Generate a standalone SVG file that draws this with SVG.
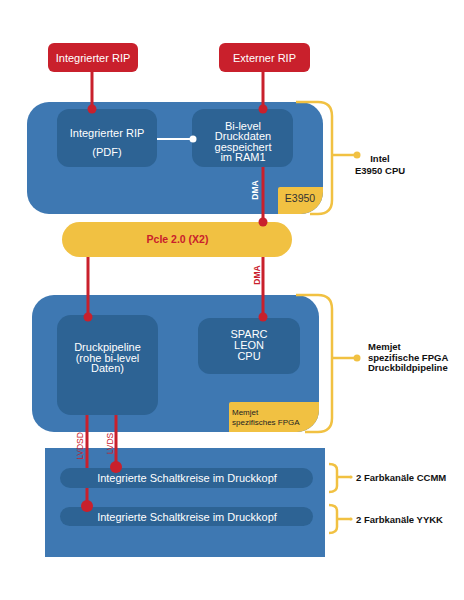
<svg xmlns="http://www.w3.org/2000/svg" width="464" height="600" viewBox="0 0 464 600">
<style>
text{font-family:"Liberation Sans",Arial,sans-serif}
.red{fill:#c9202c}
.blue{fill:#3e78b2}
.dark{fill:#2d6394}
.yel{fill:#f1c142}
.w{fill:#fff;font-size:11px;text-anchor:middle}
.lbl{fill:#111;font-size:9.5px;font-weight:bold}
.br{fill:none;stroke:#f1c142;stroke-width:2.5}
.ln{stroke:#c9202c;stroke-width:3;fill:none}
</style>
<defs>
<clipPath id="cpuClip"><rect x="27" y="102" width="296" height="112" rx="22"/></clipPath>
<clipPath id="fpgaClip"><rect x="32" y="295" width="287" height="137" rx="22"/></clipPath>
</defs>
<rect width="464" height="600" fill="#fff"/>

<g id="rip-int">
<rect class="red" x="48" y="43" width="90" height="29" rx="6"/>
<text class="w" x="93" y="61.5">Integrierter RIP</text>
</g>
<g id="rip-ext">
<rect class="red" x="219" y="43" width="91" height="29" rx="6"/>
<text class="w" x="264.5" y="61.5">Externer RIP</text>
</g>

<g id="cpu">
<rect class="blue" x="27" y="102" width="296" height="112" rx="22"/>
<rect class="yel" x="278" y="187" width="50" height="30" rx="2" clip-path="url(#cpuClip)"/>
<text x="300" y="202" font-size="10.5" fill="#333" text-anchor="middle">E3950</text>
<path class="br" d="M296,102 H318 Q332,102 332,116 V200 Q332,214 318,214 H310"/>
<path class="br" d="M332,155 H357"/>
<circle class="yel" cx="357" cy="155" r="3.5"/>
<text class="lbl" x="380" y="161.5" text-anchor="middle" font-size="10">Intel</text>
<text class="lbl" x="380" y="173.5" text-anchor="middle" font-size="10">E3950 CPU</text>
</g>

<g id="rip-pdf">
<rect class="dark" x="57" y="109" width="100" height="58" rx="12"/>
<text class="w" x="107" y="137">Integrierter RIP</text>
<text class="w" x="107" y="156">(PDF)</text>
</g>
<g id="ram1">
<rect class="dark" x="192" y="109" width="101" height="58" rx="12"/>
<text class="w" x="243" y="129.5" font-size="10.5">Bi-level</text>
<text class="w" x="243" y="140" font-size="10.5">Druckdaten</text>
<text class="w" x="243" y="150.5" font-size="10.5">gespeichert</text>
<text class="w" x="243" y="161" font-size="10.5">im RAM1</text>
</g>

<g id="pcie">
<rect class="yel" x="62" y="222" width="230" height="35" rx="17.5"/>
<text x="177.5" y="243" font-size="10.5" font-weight="bold" fill="#c9202c" text-anchor="middle">PcIe 2.0 (X2)</text>
</g>

<g id="fpga">
<rect class="blue" x="32" y="295" width="287" height="137" rx="22"/>
<rect class="yel" x="229" y="402" width="95" height="35" rx="2" clip-path="url(#fpgaClip)"/>
<text x="232" y="415" font-size="8" fill="#222">Memjet</text>
<text x="232" y="424.5" font-size="8" fill="#222">spezifisches FPGA</text>
<path class="br" d="M296,295 H318 Q332,295 332,309 V418 Q332,432 318,432 H305"/>
<path class="br" d="M332,358 H357"/>
<circle class="yel" cx="357" cy="358" r="3.5"/>
<text class="lbl" x="368" y="349.5">Memjet</text>
<text class="lbl" x="368" y="360.5">spezifische FPGA</text>
<text class="lbl" x="368" y="371">Druckbildpipeline</text>
</g>

<g id="druckpipeline">
<rect class="dark" x="57" y="315" width="101" height="100" rx="14"/>
<text class="w" x="107.5" y="351" font-size="11.5">Druckpipeline</text>
<text class="w" x="107.5" y="361.5" font-size="11.5">(rohe bi-level</text>
<text class="w" x="107.5" y="372" font-size="11.5">Daten)</text>
</g>
<g id="sparc">
<rect class="dark" x="198" y="318" width="102" height="56" rx="12"/>
<text class="w" x="249" y="337.5" font-size="9">SPARC</text>
<text class="w" x="249" y="349" font-size="9">LEON</text>
<text class="w" x="249" y="359.5" font-size="9">CPU</text>
</g>

<g id="druckkopf">
<rect class="blue" x="45" y="448" width="280" height="109"/>
<path class="br" d="M329,464 Q337,464 337,470 V486 Q337,492 329,492"/>
<path class="br" d="M337,477 H351" stroke-width="1.5"/>
<circle class="yel" cx="351" cy="477" r="1.6"/>
<text class="lbl" x="356" y="480.5">2 Farbkanäle CCMM</text>
<path class="br" d="M329,505 Q337,505 337,511 V527 Q337,533 329,533"/>
<path class="br" d="M337,519 H351" stroke-width="1.5"/>
<circle class="yel" cx="351" cy="519" r="1.6"/>
<text class="lbl" x="356" y="522.5">2 Farbkanäle YYKK</text>
</g>
<g id="ic-ccmm">
<rect class="dark" x="60" y="468" width="253" height="20" rx="10"/>
<text class="w" x="187" y="481.5" font-size="10">Integrierte Schaltkreise im Druckkopf</text>
</g>
<g id="ic-yykk">
<rect class="dark" x="60" y="507" width="253" height="19" rx="9.5"/>
<text class="w" x="187" y="520.5" font-size="10">Integrierte Schaltkreise im Druckkopf</text>
</g>

<g id="connectors">
<path class="ln" d="M92,72 V109"/>
<circle class="red" cx="92" cy="109" r="4.5"/>
<path class="ln" d="M263,72 V109"/>
<circle class="red" cx="263" cy="109" r="4.5"/>
<path d="M157,139 H193" stroke="#fff" stroke-width="2"/>
<circle cx="193" cy="139" r="3.5" fill="#fff"/>
<path class="ln" d="M263,167 V222"/>
<circle class="red" cx="263" cy="222" r="4.5"/>
<text transform="translate(258,190) rotate(-90)" font-size="8.5" font-weight="bold" fill="#fff" text-anchor="middle">DMA</text>
<path class="ln" d="M88,257 V317"/>
<circle class="red" cx="88" cy="317" r="4.5"/>
<path class="ln" d="M263,257 V317"/>
<circle class="red" cx="263" cy="317" r="4.5"/>
<text transform="translate(260,275) rotate(-90)" font-size="8.5" font-weight="bold" fill="#c9202c" text-anchor="middle">DMA</text>
<path class="ln" d="M87,415 V468 M87,488 V506"/>
<circle class="red" cx="87" cy="506" r="6"/>
<path class="ln" d="M116,415 V467"/>
<circle class="red" cx="116" cy="467" r="6"/>
<text transform="translate(83,446) rotate(-90)" font-size="8.5" fill="#c9202c" text-anchor="middle">LVDSD</text>
<text transform="translate(112.5,443.5) rotate(-90)" font-size="8.5" fill="#c9202c" text-anchor="middle">LVDS</text>
</g>
</svg>
